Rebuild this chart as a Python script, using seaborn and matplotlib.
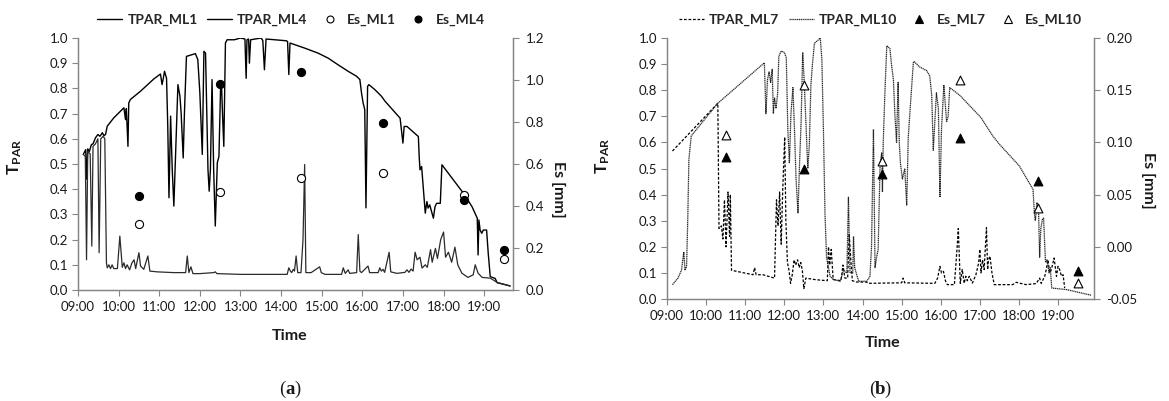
import matplotlib
matplotlib.use("Agg")
import matplotlib.pyplot as plt
from matplotlib.lines import Line2D
import seaborn as sns

# ---------------- data ----------------
# Panel (a): PAR transmittance, time in decimal hours
ml1_t = [9.13, 9.19, 9.21, 9.24, 9.28, 9.33, 9.37, 9.43, 9.49, 9.54, 9.60, 9.64, 9.68, 9.72,
         9.88, 10.13, 10.17, 10.19, 10.23, 10.25, 10.29, 10.54, 10.87, 11.03, 11.07, 11.10,
         11.13, 11.18, 11.21, 11.24, 11.28, 11.32, 11.36, 11.40, 11.46, 11.51, 11.54, 11.59,
         11.62, 11.67, 11.81, 11.89, 11.95, 12.00, 12.06, 12.10, 12.14, 12.16, 12.20, 12.23,
         12.26, 12.30, 12.34, 12.38, 12.43, 12.47, 12.51, 12.53, 12.56, 12.59, 12.63, 12.67,
         12.85, 13.00, 13.11, 13.14, 13.16, 13.20, 13.22, 13.25, 13.51, 13.55, 13.59, 13.63,
         13.84, 14.13, 14.16, 14.19, 14.22, 14.33, 14.58, 14.91, 15.16, 15.40, 15.65, 15.86,
         15.94, 15.98, 16.02, 16.06, 16.09, 16.13, 16.16, 16.31, 16.47, 16.56, 16.93, 17.00,
         17.03, 17.10, 17.38, 17.40, 17.42, 17.46, 17.50, 17.55, 17.59, 17.62, 17.66, 17.75,
         17.79, 17.83, 17.92, 17.96, 18.49, 18.70, 18.83, 18.85, 18.87, 18.90, 18.94, 18.98,
         19.06, 19.10, 19.15, 19.27, 19.32, 19.64]
ml1_v = [0.538, 0.557, 0.44, 0.56, 0.55, 0.577, 0.58, 0.604, 0.617, 0.61, 0.624, 0.612, 0.618, 0.65,
         0.683, 0.723, 0.676, 0.72, 0.57, 0.742, 0.756, 0.789, 0.838, 0.857, 0.815, 0.84,
         0.868, 0.84, 0.65, 0.366, 0.69, 0.48, 0.333, 0.53, 0.815, 0.769, 0.70, 0.524,
         0.70, 0.927, 0.934, 0.938, 0.914, 0.782, 0.538, 0.947, 0.94, 0.78, 0.478, 0.392,
         0.478, 0.835, 0.478, 0.254, 0.505, 0.53, 0.80, 0.828, 0.69, 0.57, 0.98, 0.993,
         0.993, 1.0, 0.996, 0.84, 0.993, 0.996, 0.90, 0.993, 1.0, 0.99, 0.874, 0.996,
         0.993, 0.989, 0.986, 0.855, 0.98, 0.974, 0.96, 0.94, 0.92, 0.894, 0.868, 0.848,
         0.835, 0.782, 0.742, 0.716, 0.326, 0.808, 0.815, 0.795, 0.769, 0.749, 0.682, 0.583,
         0.649, 0.649, 0.609, 0.53, 0.477, 0.49, 0.41, 0.305, 0.351, 0.325, 0.338, 0.285,
         0.331, 0.344, 0.344, 0.497, 0.384, 0.331, 0.285, 0.139, 0.278, 0.238, 0.225, 0.238,
         0.238, 0.146, 0.053, 0.046, 0.029, 0.016]

ml4_t = [9.13, 9.18, 9.21, 9.24, 9.30, 9.34, 9.37, 9.43, 9.49, 9.52, 9.56, 9.62, 9.66, 9.70,
         9.72, 9.76, 9.80, 9.84, 9.88, 9.97, 10.03, 10.09, 10.13, 10.17, 10.21, 10.27, 10.33,
         10.38, 10.42, 10.50, 10.54, 10.62, 10.72, 10.77, 10.95, 11.36, 11.65, 11.69, 11.73,
         11.78, 11.83, 12.00, 12.34, 12.38, 12.42, 13.00, 14.15, 14.19, 14.23, 14.26, 14.30,
         14.33, 14.37, 14.41, 14.49, 14.54, 14.58, 14.61, 14.74, 14.95, 14.99, 15.08, 15.49,
         15.53, 15.58, 15.65, 15.69, 15.86, 15.90, 15.94, 15.98, 16.14, 16.18, 16.39, 16.43,
         16.47, 16.51, 16.55, 16.66, 16.70, 16.85, 17.05, 17.10, 17.15, 17.20, 17.25, 17.30,
         17.35, 17.42, 17.47, 17.55, 17.60, 17.68, 17.72, 17.80, 17.85, 17.93, 18.00, 18.05,
         18.12, 18.20, 18.28, 18.35, 18.45, 18.60, 18.73, 18.78, 18.85, 18.95, 19.15, 19.32,
         19.64]
ml4_v = [0.538, 0.53, 0.12, 0.55, 0.54, 0.174, 0.57, 0.58, 0.60, 0.148, 0.60, 0.61, 0.60, 0.108,
         0.088, 0.10, 0.085, 0.10, 0.085, 0.085, 0.214, 0.09, 0.108, 0.085, 0.10, 0.08, 0.108,
         0.12, 0.085, 0.148, 0.095, 0.082, 0.135, 0.075, 0.072, 0.069, 0.069, 0.135, 0.069,
         0.092, 0.065, 0.065, 0.069, 0.072, 0.065, 0.062, 0.062, 0.088, 0.075, 0.069, 0.082,
         0.075, 0.135, 0.069, 0.069, 0.20, 0.498, 0.069, 0.069, 0.092, 0.069, 0.062, 0.062,
         0.088, 0.066, 0.08, 0.066, 0.069, 0.22, 0.075, 0.069, 0.095, 0.069, 0.069, 0.088,
         0.075, 0.082, 0.07, 0.15, 0.072, 0.066, 0.07, 0.08, 0.07, 0.083, 0.075, 0.15,
         0.12, 0.13, 0.087, 0.10, 0.09, 0.16, 0.11, 0.165, 0.125, 0.20, 0.23, 0.13,
         0.15, 0.11, 0.17, 0.10, 0.067, 0.05, 0.06, 0.10, 0.067, 0.05, 0.047, 0.03,
         0.016]

# Panel (b)
ml7_t = [9.14, 10.30, 10.33, 10.39, 10.43, 10.47, 10.51, 10.56, 10.60, 10.62, 10.65, 11.20,
         11.24, 11.28, 11.45, 11.75, 11.80, 11.84, 11.88, 11.92, 11.96, 12.01, 12.04, 12.08,
         12.12, 12.16, 12.20, 12.25, 12.29, 12.34, 12.38, 12.42, 12.46, 12.50, 12.55, 12.80,
         13.10, 13.13, 13.16, 13.20, 13.25, 13.45, 13.50, 13.55, 13.62, 13.66, 13.70, 13.74,
         13.85, 14.10, 14.15, 15.00, 15.04, 15.08, 15.85, 15.92, 15.98, 16.02, 16.07, 16.12,
         16.17, 16.35, 16.42, 16.45, 16.50, 16.55, 16.60, 16.64, 16.68, 16.73, 16.81, 16.90,
         16.97, 17.00, 17.03, 17.07, 17.11, 17.17, 17.20, 17.22, 17.26, 17.31, 17.37, 17.84,
         17.93, 18.18, 18.44, 18.53, 18.57, 18.66, 18.70, 18.74, 18.79, 18.83, 18.90, 18.96,
         19.00, 19.04, 19.09, 19.13, 19.17]
ml7_v = [0.567, 0.75, 0.27, 0.28, 0.23, 0.38, 0.20, 0.41, 0.24, 0.40, 0.11, 0.093,
         0.12, 0.093, 0.093, 0.08, 0.38, 0.28, 0.41, 0.21, 0.42, 0.62, 0.30, 0.14,
         0.11, 0.06, 0.09, 0.15, 0.13, 0.15, 0.12, 0.14, 0.11, 0.04, 0.08, 0.074,
         0.07, 0.20, 0.13, 0.19, 0.075, 0.07, 0.13, 0.08, 0.08, 0.25, 0.15, 0.07,
         0.065, 0.065, 0.06, 0.062, 0.08, 0.062, 0.06, 0.08, 0.125, 0.10, 0.106, 0.07,
         0.055, 0.055, 0.20, 0.27, 0.06, 0.113, 0.06, 0.087, 0.07, 0.087, 0.061, 0.093,
         0.138, 0.19, 0.10, 0.15, 0.113, 0.273, 0.113, 0.15, 0.164, 0.10, 0.055, 0.055,
         0.064, 0.055, 0.059, 0.08, 0.06, 0.087, 0.113, 0.15, 0.10, 0.113, 0.157, 0.087,
         0.125, 0.113, 0.087, 0.093, 0.042]

ml10_t = [9.14, 9.28, 9.37, 9.43, 9.46, 9.50, 9.53, 9.56, 9.62, 10.30, 11.49, 11.53, 11.57,
          11.61, 11.65, 11.69, 11.72, 11.75, 11.79, 11.83, 11.86, 11.92, 12.00, 12.05, 12.09,
          12.13, 12.17, 12.22, 12.26, 12.30, 12.35, 12.39, 12.43, 12.47, 12.51, 12.56, 12.60,
          12.64, 12.68, 12.72, 12.77, 12.85, 12.92, 12.96, 13.00, 13.04, 13.08, 13.17, 13.26,
          13.43, 13.51, 13.60, 13.64, 13.68, 13.75, 13.77, 13.80, 13.90, 14.11, 14.19, 14.23,
          14.28, 14.32, 14.36, 14.40, 14.45, 14.49, 14.51, 14.53, 14.57, 14.62, 14.70, 14.74,
          14.79, 14.83, 14.87, 14.91, 14.94, 14.97, 15.02, 15.08, 15.13, 15.17, 15.21, 15.26,
          15.30, 15.32, 15.45, 15.64, 15.72, 15.77, 15.81, 15.85, 15.89, 15.94, 15.98, 16.02,
          16.08, 16.15, 16.19, 16.23, 16.49, 17.03, 17.33, 17.50, 18.01, 18.36, 18.40, 18.42,
          18.46, 18.50, 18.53, 18.56, 18.60, 18.63, 18.68, 18.72, 18.77, 18.80, 18.84, 19.22,
          19.86]
ml10_v = [0.055, 0.08, 0.11, 0.18, 0.11, 0.125, 0.30, 0.535, 0.625, 0.75, 0.905, 0.71, 0.84,
          0.87, 0.83, 0.88, 0.71, 0.77, 0.73, 0.79, 0.93, 0.95, 0.945, 0.925, 0.65,
          0.52, 0.71, 0.81, 0.65, 0.46, 0.33, 0.52, 0.68, 0.945, 0.83, 0.65, 0.50,
          0.59, 0.82, 0.90, 0.98, 0.99, 1.0, 0.92, 0.65, 0.33, 0.16, 0.087, 0.074,
          0.068, 0.11, 0.10, 0.39, 0.10, 0.10, 0.24, 0.12, 0.068, 0.068, 0.087, 0.20,
          0.65, 0.12, 0.16, 0.19, 0.52, 0.56, 0.41, 0.60, 0.78, 0.97, 0.96, 0.90,
          0.84, 0.70, 0.60, 0.83, 0.60, 0.52, 0.46, 0.50, 0.36, 0.62, 0.71, 0.82,
          0.906, 0.91, 0.89, 0.875, 0.855, 0.78, 0.57, 0.68, 0.79, 0.73, 0.39, 0.65,
          0.82, 0.68, 0.70, 0.81, 0.78, 0.695, 0.625, 0.593, 0.51, 0.42, 0.32, 0.30,
          0.37, 0.35, 0.16, 0.27, 0.305, 0.31, 0.14, 0.15, 0.10, 0.12, 0.042, 0.036,
          0.014]

# Soil evaporation, sampled at half-hour marks
es_t = [10.5, 12.5, 14.5, 16.5, 18.5, 19.5]
es_ml1 = [0.314, 0.467, 0.535, 0.556, 0.452, 0.147]
es_ml4 = [0.448, 0.98, 1.04, 0.795, 0.43, 0.19]
es_ml7 = [0.086, 0.075, 0.070, 0.104, 0.063, -0.023]
es_ml10 = [0.107, 0.155, 0.082, 0.160, 0.037, -0.035]

hours = list(range(9, 20))
hour_labels = [f"{h:02d}:00" for h in hours]

# ---------------- style ----------------
sns.set_theme(style="white")
plt.rcParams["font.family"] = ["Lato", "DejaVu Sans"]
plt.rcParams["mathtext.fontset"] = "custom"
plt.rcParams["mathtext.rm"] = "Lato"
plt.rcParams["mathtext.bf"] = "Lato:bold"

AXC = "#868686"
TXT = "#1a1a1a"
TICK_FS = 9.5
LAB_FS = 11.5
ML10_STYLE = (0, (1.0, 0.5))
ML7_STYLE = (0, (2.2, 1.4))

fig = plt.figure(figsize=(11.69, 4.01), dpi=100)
W, H = 1169, 401


def make_axes(l, r, t, b):
    return fig.add_axes([l / W, 1 - b / H, (r - l) / W, (b - t) / H])


def style_axes(ax, ax2, xmax, ylim2, yticks2, fmt2):
    ax.set_xlim(9, xmax)
    ax.set_ylim(0, 1.0)
    ax.set_xticks(hours)
    ax.set_xticklabels(hour_labels)
    ax.set_yticks([i / 10 for i in range(11)])
    ax.set_yticklabels([f"{i / 10:.1f}" for i in range(11)])
    ax2.set_ylim(*ylim2)
    ax2.set_yticks(yticks2)
    ax2.set_yticklabels([fmt2.format(v) for v in yticks2])
    for a in (ax, ax2):
        a.spines["top"].set_visible(False)
        for side in ("left", "bottom", "right"):
            a.spines[side].set_color(AXC)
            a.spines[side].set_linewidth(0.9)
        a.tick_params(axis="both", which="both", direction="out", length=4, width=0.8,
                      color=AXC, labelsize=TICK_FS, labelcolor=TXT, pad=3)
    ax.tick_params(axis="y", right=False, left=True)
    ax.tick_params(axis="x", bottom=True, pad=4)
    ax2.tick_params(axis="y", right=True, left=False, pad=5)
    ax.set_xlabel("Time", fontsize=LAB_FS, fontweight="bold", color=TXT)
    ax.set_ylabel(r"$\mathbf{T_{PAR}}$", fontsize=LAB_FS + 1, color=TXT)
    ax2.set_ylabel("Es [mm]", fontsize=LAB_FS, fontweight="bold", color=TXT, rotation=270)
    ax.grid(False)
    ax2.grid(False)


def caption(xc, letter):
    # regular parentheses around a bold panel letter
    y = 1 - 389 / H
    fam = ["Liberation Serif", "DejaVu Serif"]
    fig.text(xc / W, y, letter, ha="center", va="center", fontsize=13.5,
             family=fam, fontweight="bold", color=TXT)
    fig.text((xc - 4.5) / W, y, "(", ha="right", va="center", fontsize=13.5,
             family=fam, color=TXT)
    fig.text((xc + 4.5) / W, y, ")", ha="left", va="center", fontsize=13.5,
             family=fam, color=TXT)


# ---------------- panel (a) ----------------
axa = make_axes(78, 513, 38, 290)
axa2 = axa.twinx()
sns.lineplot(x=ml1_t, y=ml1_v, ax=axa, color="black", lw=1.0, estimator=None, sort=False)
sns.lineplot(x=ml4_t, y=ml4_v, ax=axa, color="#2b2b2b", lw=0.9, estimator=None, sort=False)
sns.scatterplot(x=es_t, y=es_ml1, ax=axa2, marker="o", s=34, color="white",
                edgecolor="black", linewidth=0.8, zorder=5)
sns.scatterplot(x=es_t, y=es_ml4, ax=axa2, marker="o", s=34, color="black",
                edgecolor="black", linewidth=0.8, zorder=5)
style_axes(axa, axa2, 19.71, (0, 1.2), [0.0, 0.2, 0.4, 0.6, 0.8, 1.0, 1.2], "{:.1f}")
axa.xaxis.set_label_coords(0.487, -0.155)
axa.yaxis.set_label_coords(-0.125, 0.53)
axa2.yaxis.set_label_coords(1.12, 0.40)

handles_a = [
    Line2D([], [], color="black", lw=1.0),
    Line2D([], [], color="black", lw=1.0),
    Line2D([], [], ls="none", marker="o", ms=5, mfc="white", mec="black", mew=0.8),
    Line2D([], [], ls="none", marker="o", ms=5, mfc="black", mec="black", mew=0.8),
]
axa2.legend(handles_a, ["TPAR_ML1", "TPAR_ML4", "Es_ML1", "Es_ML4"], loc="center",
            bbox_to_anchor=(0.49, 1.07), ncol=4, frameon=False, handlelength=1.8,
            handletextpad=0.35, columnspacing=0.7, borderaxespad=0,
            prop={"weight": "bold", "size": 10})

# ---------------- panel (b) ----------------
axb = make_axes(667, 1094, 38, 299)
axb2 = axb.twinx()
sns.lineplot(x=ml7_t, y=ml7_v, ax=axb, color="black", lw=0.9, estimator=None, sort=False,
             linestyle=ML7_STYLE)
sns.lineplot(x=ml10_t, y=ml10_v, ax=axb, color="#262626", lw=0.9, estimator=None, sort=False,
             linestyle=ML10_STYLE)
sns.scatterplot(x=es_t, y=es_ml7, ax=axb2, marker="^", s=40, color="black",
                edgecolor="black", linewidth=0.8, zorder=5)
sns.scatterplot(x=es_t, y=es_ml10, ax=axb2, marker="^", s=40, color="white",
                edgecolor="black", linewidth=0.8, zorder=5)
style_axes(axb, axb2, 19.92, (-0.05, 0.20), [-0.05, 0.0, 0.05, 0.10, 0.15, 0.20], "{:.2f}")
axb.xaxis.set_label_coords(0.506, -0.14)
axb.yaxis.set_label_coords(-0.128, 0.55)
axb2.yaxis.set_label_coords(1.143, 0.456)

handles_b = [
    Line2D([], [], color="black", lw=0.9, linestyle=ML7_STYLE),
    Line2D([], [], color="#262626", lw=0.9, linestyle=ML10_STYLE),
    Line2D([], [], ls="none", marker="^", ms=5.5, mfc="black", mec="black", mew=0.8),
    Line2D([], [], ls="none", marker="^", ms=5.5, mfc="white", mec="black", mew=0.8),
]
axb2.legend(handles_b, ["TPAR_ML7", "TPAR_ML10", "Es_ML7", "Es_ML10"], loc="center",
            bbox_to_anchor=(0.5, 1.07), ncol=4, frameon=False, handlelength=1.8,
            handletextpad=0.35, columnspacing=0.7, borderaxespad=0,
            prop={"weight": "bold", "size": 10})

# ---------------- captions ----------------
caption(290, "a")
caption(880, "b")

fig.savefig("out.png", dpi=100, facecolor="white")
